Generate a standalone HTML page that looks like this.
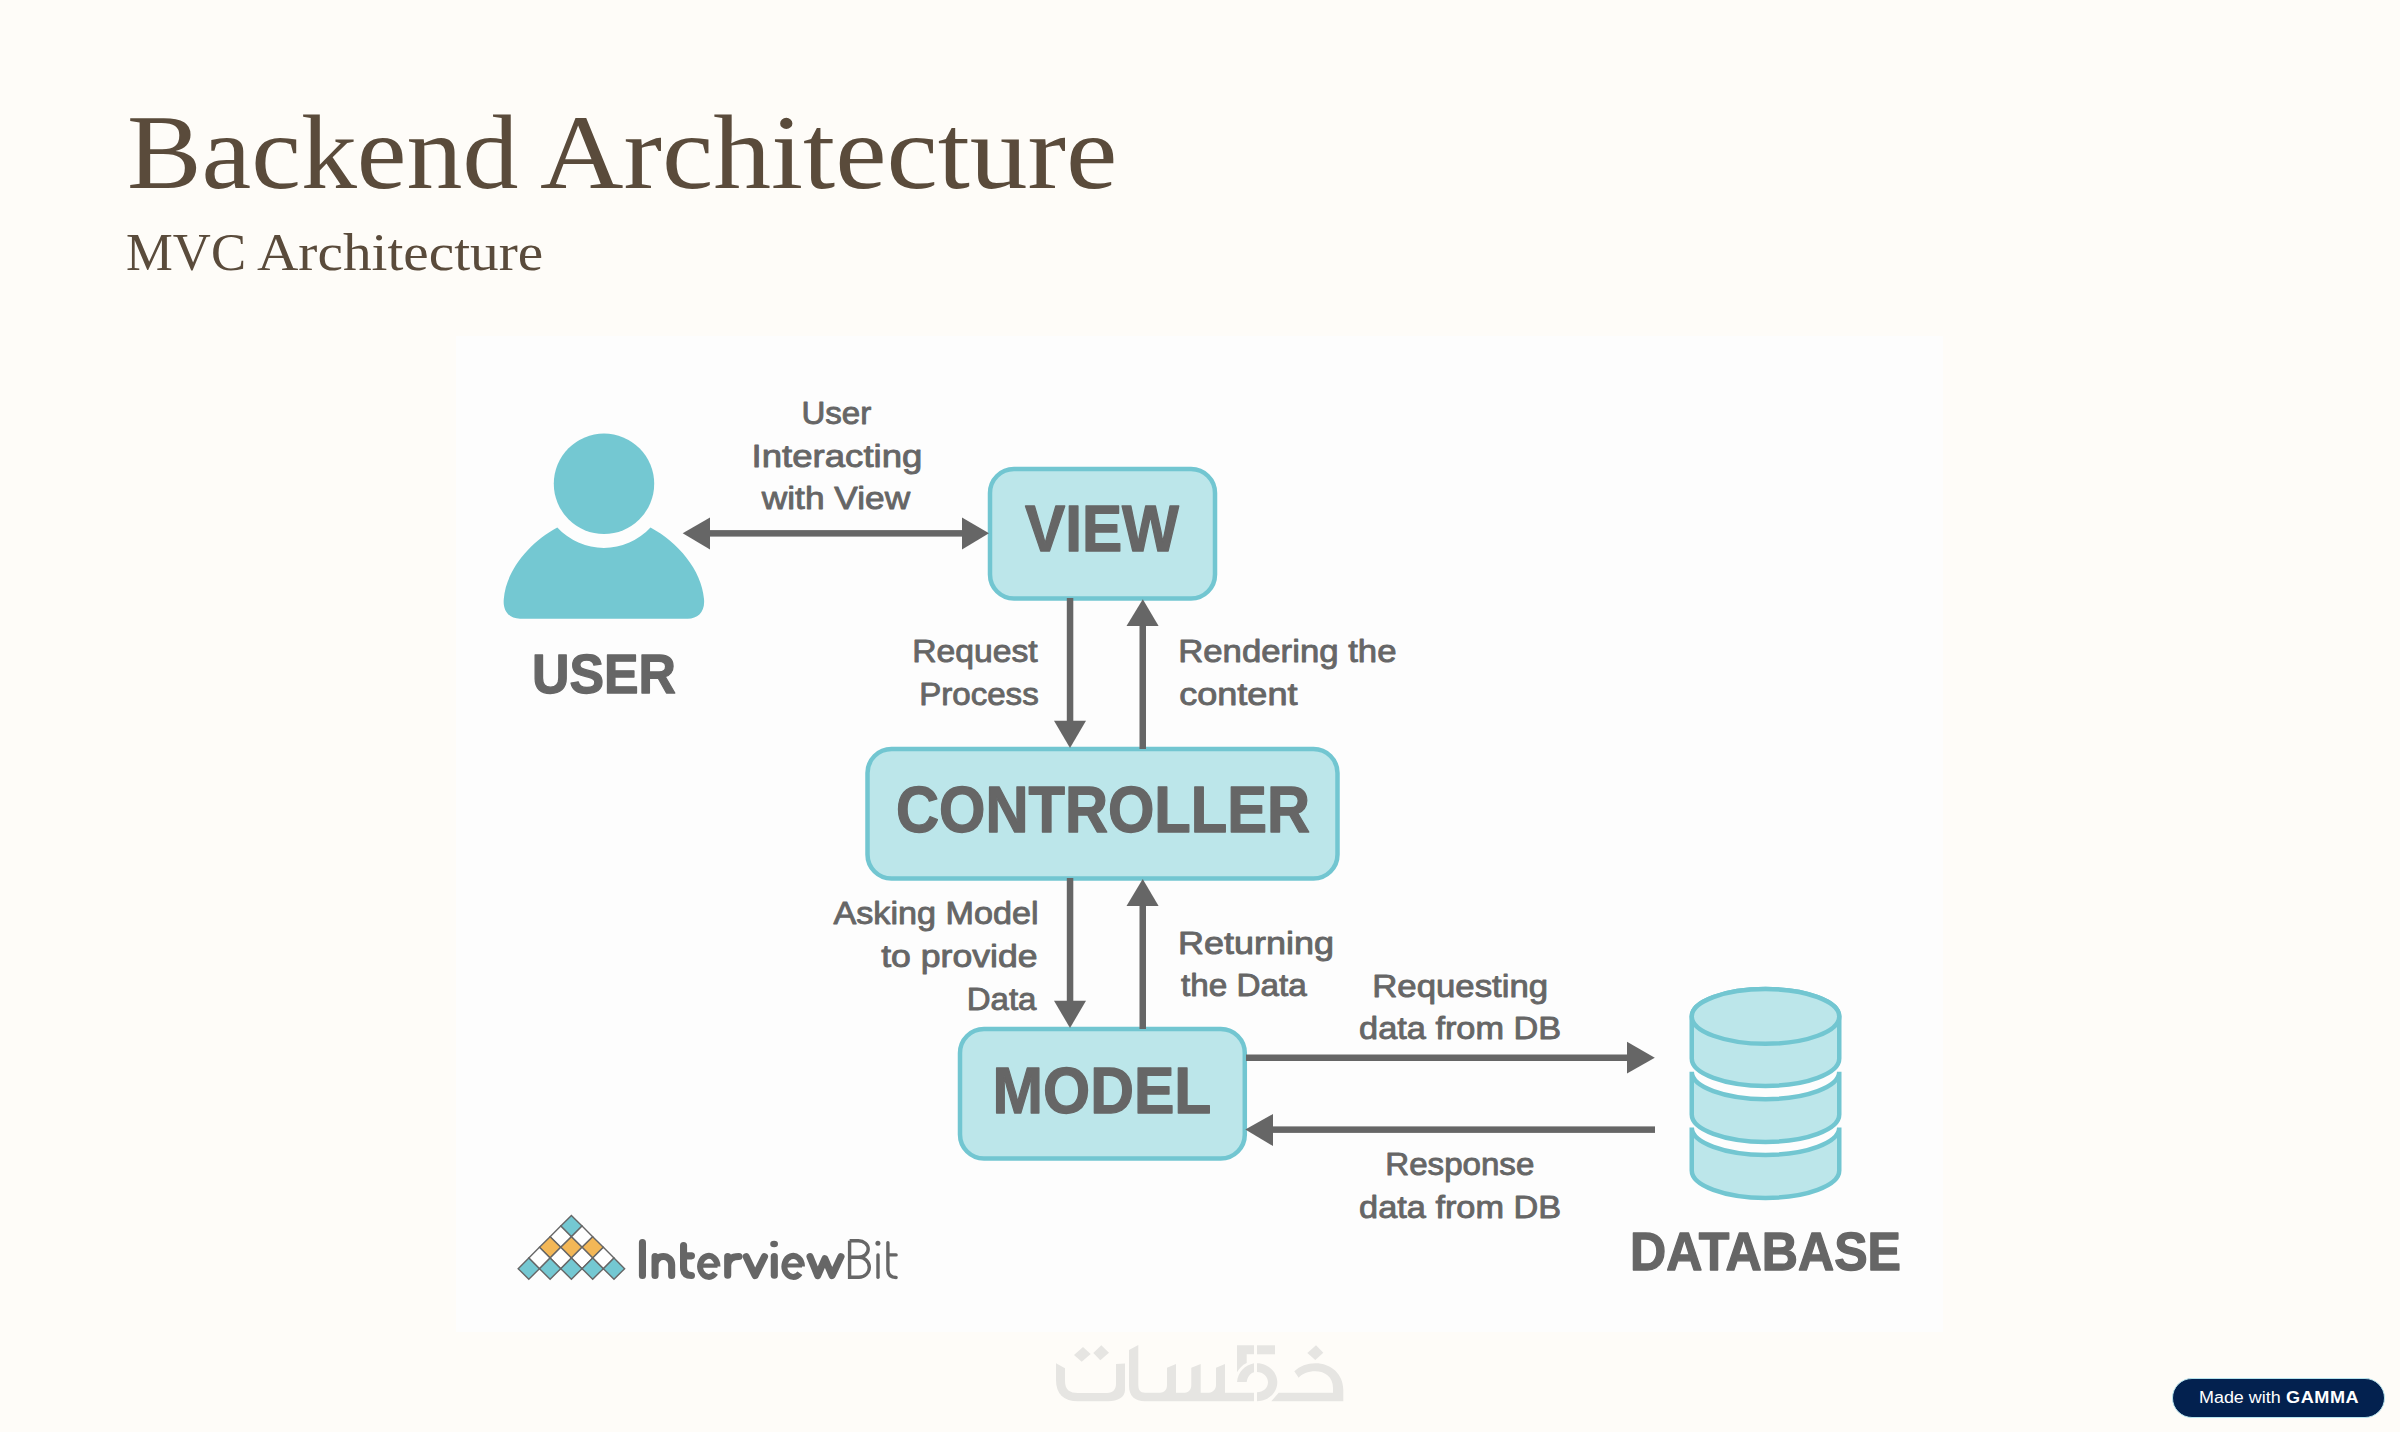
<!DOCTYPE html>
<html>
<head>
<meta charset="utf-8">
<title>Backend Architecture</title>
<style>
html,body{margin:0;padding:0;}
body{width:2400px;height:1432px;overflow:hidden;background:#fefcf8;position:relative;}
.title{position:absolute;margin:0;font-family:"Liberation Serif",serif;font-weight:normal;color:#5a4b3b;white-space:nowrap;transform-origin:0 0;}
#h1{left:0;top:100px;font-size:105px;line-height:105px;}
#h2{left:0;top:226px;font-size:53.4px;line-height:53.4px;}
.w{position:absolute;top:0;transform-origin:0 0;}
#img{position:absolute;left:456px;top:336px;width:1487px;height:996px;background:#fdfdfd;}
svg{position:absolute;left:0;top:0;}
.lb{font-family:"Liberation Sans",sans-serif;font-weight:bold;fill:#666666;}
#badge{position:absolute;left:2172px;top:1378px;width:211px;height:37.5px;border-radius:20px;background:#03214f;border:1px solid #b7e4ee;font-family:"Liberation Sans",sans-serif;color:#fff;white-space:nowrap;}
#badge .mw{position:absolute;left:26px;top:10px;font-size:16px;line-height:18px;transform-origin:0 0;transform:scaleX(1.12);}
#badge .gm{position:absolute;left:113px;top:10px;font-size:16px;line-height:18px;font-weight:bold;letter-spacing:0.5px;transform-origin:0 0;transform:scaleX(1.13);}
</style>
</head>
<body>
<h1 class="title" id="h1"><span class="w" style="left:127.05px;transform:scaleX(1.0653)">Backend</span> <span class="w" style="left:539.79px;transform:scaleX(1.1004)">Architecture</span></h1>
<h2 class="title" id="h2"><span class="w" style="left:125.81px;transform:scaleX(0.9867)">MVC</span> <span class="w" style="left:256.60px;transform:scaleX(1.0730)">Architecture</span></h2>
<div id="img"></div>
<svg width="2400" height="1432" viewBox="0 0 2400 1432">
  <!-- user icon -->
  <circle cx="604" cy="483.8" r="50.2" fill="#74c8d2"/>
  <path d="M557.3,527.4 C530,542 506,570 503.8,598.9 C502.5,612 510,618.7 520,618.7 L687.8,618.7 C697.8,618.7 705.3,612 704,598.9 C701.8,570 677.8,542 650.5,527.4 A63.1,63.1 0 0 1 557.3,527.4 Z" fill="#74c8d2"/>
  <!-- boxes -->
  <rect x="990" y="469" width="225" height="129.5" rx="24" fill="#bce6ea" stroke="#72c6d1" stroke-width="4.5"/>
  <rect x="867.5" y="749" width="470" height="129.5" rx="24" fill="#bce6ea" stroke="#72c6d1" stroke-width="4.5"/>
  <rect x="960" y="1029" width="284.8" height="129.5" rx="24" fill="#bce6ea" stroke="#72c6d1" stroke-width="4.5"/>
  <!-- arrows -->
  <g fill="#666666">
    <rect x="705" y="530.1" width="262" height="6.5"/>
    <polygon points="682.7,533.3 710,517.5 710,549.4"/>
    <polygon points="989,533.3 962,517.5 962,549.4"/>
    <rect x="1066.8" y="598" width="6.5" height="125"/>
    <polygon points="1070,748 1054,720.7 1086,720.7"/>
    <rect x="1139.5" y="622" width="6.5" height="127"/>
    <polygon points="1142.8,599.3 1126.5,626 1158.6,626"/>
    <rect x="1066.8" y="878" width="6.5" height="125"/>
    <polygon points="1070,1028 1054,1000.7 1086,1000.7"/>
    <rect x="1139.5" y="902" width="6.5" height="127"/>
    <polygon points="1142.7,879 1126.5,906 1158.6,906"/>
    <rect x="1246" y="1054.5" width="384" height="6.5"/>
    <polygon points="1654.8,1057.7 1627,1041.7 1627,1073.5"/>
    <rect x="1270" y="1126.4" width="385" height="6.5"/>
    <polygon points="1245.3,1129.6 1273,1114 1273,1146"/>
  </g>
  <!-- database -->
  <g fill="#bce6ea" stroke="#72c6d1" stroke-width="4.5">
    <path d="M1691.75,1016.4 A73.75,27.35 0 0 1 1839.25,1016.4 L1839.25,1058.6 A73.75,27.35 0 0 1 1691.75,1058.6 Z"/>
    <ellipse cx="1765.5" cy="1016.4" rx="73.75" ry="27.35"/>
    <path d="M1691.75,1071.8 A73.75,27.35 0 0 0 1839.25,1071.8 L1839.25,1114.6 A73.75,27.35 0 0 1 1691.75,1114.6 Z"/>
    <path d="M1691.75,1127.6 A73.75,27.35 0 0 0 1839.25,1127.6 L1839.25,1170.6 A73.75,27.35 0 0 1 1691.75,1170.6 Z"/>
  </g>
  <!-- labels -->
  <g class="lb">
    <text x="801.4" y="423.9" font-size="32.0" textLength="69.9" lengthAdjust="spacingAndGlyphs" stroke="#666666" stroke-width="0.9" stroke-linejoin="round" font-weight="normal">User</text>
    <text x="751.5" y="466.6" font-size="32.0" textLength="170.9" lengthAdjust="spacingAndGlyphs" stroke="#666666" stroke-width="0.9" stroke-linejoin="round" font-weight="normal">Interacting</text>
    <text x="761.8" y="509.2" font-size="32.0" textLength="148.4" lengthAdjust="spacingAndGlyphs" stroke="#666666" stroke-width="0.9" stroke-linejoin="round" font-weight="normal">with View</text>
    <text x="912.2" y="662.2" font-size="32.0" textLength="125.5" lengthAdjust="spacingAndGlyphs" stroke="#666666" stroke-width="0.9" stroke-linejoin="round" font-weight="normal">Request</text>
    <text x="919.2" y="704.6" font-size="32.0" textLength="119.5" lengthAdjust="spacingAndGlyphs" stroke="#666666" stroke-width="0.9" stroke-linejoin="round" font-weight="normal">Process</text>
    <text x="1178.2" y="662.2" font-size="32.0" textLength="218.3" lengthAdjust="spacingAndGlyphs" stroke="#666666" stroke-width="0.9" stroke-linejoin="round" font-weight="normal">Rendering the</text>
    <text x="1179.2" y="704.6" font-size="32.0" textLength="118.3" lengthAdjust="spacingAndGlyphs" stroke="#666666" stroke-width="0.9" stroke-linejoin="round" font-weight="normal">content</text>
    <text x="833.5" y="924.0" font-size="32.0" textLength="205.0" lengthAdjust="spacingAndGlyphs" stroke="#666666" stroke-width="0.9" stroke-linejoin="round" font-weight="normal">Asking Model</text>
    <text x="881.2" y="967.1" font-size="32.0" textLength="156.3" lengthAdjust="spacingAndGlyphs" stroke="#666666" stroke-width="0.9" stroke-linejoin="round" font-weight="normal">to provide</text>
    <text x="966.7" y="1010.3" font-size="32.0" textLength="69.8" lengthAdjust="spacingAndGlyphs" stroke="#666666" stroke-width="0.9" stroke-linejoin="round" font-weight="normal">Data</text>
    <text x="1178.0" y="954.3" font-size="32.0" textLength="156.0" lengthAdjust="spacingAndGlyphs" stroke="#666666" stroke-width="0.9" stroke-linejoin="round" font-weight="normal">Returning</text>
    <text x="1181.0" y="996.3" font-size="32.0" textLength="125.8" lengthAdjust="spacingAndGlyphs" stroke="#666666" stroke-width="0.9" stroke-linejoin="round" font-weight="normal">the Data</text>
    <text x="1372.2" y="996.7" font-size="32.0" textLength="175.9" lengthAdjust="spacingAndGlyphs" stroke="#666666" stroke-width="0.9" stroke-linejoin="round" font-weight="normal">Requesting</text>
    <text x="1359.1" y="1038.9" font-size="32.0" textLength="202.1" lengthAdjust="spacingAndGlyphs" stroke="#666666" stroke-width="0.9" stroke-linejoin="round" font-weight="normal">data from DB</text>
    <text x="1385.3" y="1175.3" font-size="32.0" textLength="149.0" lengthAdjust="spacingAndGlyphs" stroke="#666666" stroke-width="0.9" stroke-linejoin="round" font-weight="normal">Response</text>
    <text x="1359.1" y="1217.8" font-size="32.0" textLength="202.1" lengthAdjust="spacingAndGlyphs" stroke="#666666" stroke-width="0.9" stroke-linejoin="round" font-weight="normal">data from DB</text>
    <text x="532.0" y="692.7" font-size="55.62" textLength="144.0" lengthAdjust="spacingAndGlyphs" stroke="#666666" stroke-width="1.3" stroke-linejoin="round">USER</text>
    <text x="1025.0" y="551.3" font-size="63.96" textLength="154.0" lengthAdjust="spacingAndGlyphs" stroke="#666666" stroke-width="1.3" stroke-linejoin="round">VIEW</text>
    <text x="896.0" y="832.0" font-size="63.9" textLength="414.0" lengthAdjust="spacingAndGlyphs" stroke="#666666" stroke-width="1.3" stroke-linejoin="round">CONTROLLER</text>
    <text x="992.6" y="1112.5" font-size="65.1" textLength="218.7" lengthAdjust="spacingAndGlyphs" stroke="#666666" stroke-width="1.3" stroke-linejoin="round">MODEL</text>
    <text x="1630.0" y="1270.0" font-size="53.83" textLength="271.0" lengthAdjust="spacingAndGlyphs" stroke="#666666" stroke-width="1.3" stroke-linejoin="round">DATABASE</text>
  </g>
  <!-- InterviewBit logo -->
  <g>
    <polygon points="571.40,1215.40 582.05,1226.05 571.40,1236.70 560.75,1226.05" fill="#74c8d2" stroke="#666666" stroke-width="1.4" stroke-linejoin="miter"/>
    <polygon points="560.75,1226.05 571.40,1236.70 560.75,1247.35 550.10,1236.70" fill="#ffffff" stroke="#666666" stroke-width="1.4" stroke-linejoin="miter"/>
    <polygon points="582.05,1226.05 592.70,1236.70 582.05,1247.35 571.40,1236.70" fill="#ffffff" stroke="#666666" stroke-width="1.4" stroke-linejoin="miter"/>
    <polygon points="550.10,1236.70 560.75,1247.35 550.10,1258.00 539.45,1247.35" fill="#f3b757" stroke="#666666" stroke-width="1.4" stroke-linejoin="miter"/>
    <polygon points="571.40,1236.70 582.05,1247.35 571.40,1258.00 560.75,1247.35" fill="#f3b757" stroke="#666666" stroke-width="1.4" stroke-linejoin="miter"/>
    <polygon points="592.70,1236.70 603.35,1247.35 592.70,1258.00 582.05,1247.35" fill="#f3b757" stroke="#666666" stroke-width="1.4" stroke-linejoin="miter"/>
    <polygon points="539.45,1247.35 550.10,1258.00 539.45,1268.65 528.80,1258.00" fill="#ffffff" stroke="#666666" stroke-width="1.4" stroke-linejoin="miter"/>
    <polygon points="560.75,1247.35 571.40,1258.00 560.75,1268.65 550.10,1258.00" fill="#ffffff" stroke="#666666" stroke-width="1.4" stroke-linejoin="miter"/>
    <polygon points="582.05,1247.35 592.70,1258.00 582.05,1268.65 571.40,1258.00" fill="#ffffff" stroke="#666666" stroke-width="1.4" stroke-linejoin="miter"/>
    <polygon points="603.35,1247.35 614.00,1258.00 603.35,1268.65 592.70,1258.00" fill="#ffffff" stroke="#666666" stroke-width="1.4" stroke-linejoin="miter"/>
    <polygon points="528.80,1258.00 539.45,1268.65 528.80,1279.30 518.15,1268.65" fill="#74c8d2" stroke="#666666" stroke-width="1.4" stroke-linejoin="miter"/>
    <polygon points="550.10,1258.00 560.75,1268.65 550.10,1279.30 539.45,1268.65" fill="#74c8d2" stroke="#666666" stroke-width="1.4" stroke-linejoin="miter"/>
    <polygon points="571.40,1258.00 582.05,1268.65 571.40,1279.30 560.75,1268.65" fill="#74c8d2" stroke="#666666" stroke-width="1.4" stroke-linejoin="miter"/>
    <polygon points="592.70,1258.00 603.35,1268.65 592.70,1279.30 582.05,1268.65" fill="#74c8d2" stroke="#666666" stroke-width="1.4" stroke-linejoin="miter"/>
    <polygon points="614.00,1258.00 624.65,1268.65 614.00,1279.30 603.35,1268.65" fill="#74c8d2" stroke="#666666" stroke-width="1.4" stroke-linejoin="miter"/>
  </g>
  <g fill="none" stroke="#666666" stroke-linecap="round" stroke-linejoin="round">
    <g stroke-width="7.1">
      <path d="M642.45,1242.65 V1275.45"/>
      <path d="M655.05,1275.45 V1256.65 M655.05,1264.75 A8.3,8.3 0 0 1 671.65,1264.75 V1275.45"/>
      <path d="M683.55,1245.45 V1267.5 Q683.55,1275.45 691.45,1275.45 M683.55,1255.85 H691.45"/>
      <path d="M717.5,1266.4 A8.7,10.5 0 1 0 715.46,1273.15" stroke-width="6" stroke-linecap="butt"/>
      <path d="M727.7,1275.15 V1256.65 M727.7,1265 Q728.5,1256.5 738.9,1256.5"/>
      <path d="M746.1,1256.6 L755.1,1275.6 L764.5,1256.6"/>
      <path d="M774.3,1256.65 V1275.15"/>
      <path d="M802,1266.4 A8.8,10.5 0 1 0 799.94,1273.15" stroke-width="6" stroke-linecap="butt"/>
      <path d="M810,1256.6 L817.7,1275.6 L824.9,1258.8 L832.1,1275.6 L841,1256.6"/>
    </g>
    <path d="M700.6,1265.7 H717.5 M785,1265.5 H802" stroke-width="4.2" stroke-linecap="butt"/>
    <g stroke-width="3.4">
      <path d="M849.6,1240.8 V1277.3 H859 A10.3,10 0 0 0 859,1257.3 H849.6 M849.6,1240.8 H858.5 A9.7,8.25 0 0 1 858.5,1257.3" stroke-linecap="butt" stroke-linejoin="miter"/>
      <path d="M878,1255 V1277.3"/>
      <path d="M887.9,1242.6 V1269 Q887.9,1277.5 896.1,1277.5 M887.9,1254.9 H896.1"/>
    </g>
  </g>
  <ellipse cx="774.1" cy="1244" rx="3.9" ry="3.2" fill="#666666"/>
  <circle cx="877.9" cy="1243.3" r="2.5" fill="#666666"/>
  <!-- watermark -->
  <g fill="#e6e5e2">
    <path d="M1056,1363.3 L1065,1368.3 L1065,1381 C1065,1390 1070,1393 1078,1393 L1107,1393 C1113,1393 1116,1389 1116,1384 L1116,1364 L1125,1363.5 L1125,1390 C1125,1397 1118,1401.3 1108,1401.3 L1078,1401.3 C1064,1401.3 1056,1394 1056,1380 Z"/>
    <polygon points="1083,1346.9 1090.7,1354 1081.7,1361.7 1074,1355"/>
    <polygon points="1101.3,1345.3 1109,1352.7 1100.3,1360.3 1093.3,1353"/>
    <path d="M1129,1350 L1138.3,1345 L1138.3,1384 C1138.3,1390 1140,1392.7 1145,1392.7 L1160,1392.7 C1165,1392.7 1167,1389 1167,1385 L1167,1367.7 L1176,1364 L1176,1392.7 L1185,1392.7 C1189,1392.7 1191.3,1389 1191.3,1385 L1191.3,1367.7 L1200.7,1364 L1200.7,1392.7 L1209,1392.7 C1213,1392.7 1216,1389 1216,1385 L1216,1367.7 L1225,1364 L1225,1392.7 L1254,1392.7 L1254,1401.3 L1145,1401.3 C1135,1401.3 1129,1396 1129,1386 Z"/>
    <path d="M1237,1345.3 L1254,1345.3 L1254,1354.3 L1246.7,1354.3 L1246.7,1363 C1242,1365 1239,1369 1237,1372.3 Z"/>
    <rect x="1257" y="1345.3" width="18" height="9"/>
    <path d="M1237,1382 C1238,1372 1245,1365 1254,1363.3 L1254,1372.3 C1250,1373.5 1247.5,1377 1246.7,1382 Z"/>
    <path d="M1257,1363.3 C1268,1363.3 1277.3,1372 1277.3,1382.3 C1277.3,1393 1268,1401.3 1257,1401.3 L1257,1392.3 C1263,1392.3 1268,1388 1268,1382.3 C1268,1376.5 1263,1372 1257,1372 Z"/>
    <polygon points="1316,1345.3 1323.3,1352.7 1315.3,1360 1307.3,1353"/>
    <path d="M1271.3,1401.3 L1278.7,1392.7 L1333,1392.7 L1333,1388 C1333,1377 1325,1371.3 1315.3,1371.3 C1308,1371.3 1302,1374 1298.7,1377.7 L1294.3,1371.3 C1300,1366 1307,1363.3 1315.3,1363.3 C1331,1363.3 1343.3,1374 1343.3,1390 L1343.3,1401.3 Z"/>
  </g>
</svg>
<div id="badge"><span class="mw">Made with</span><span class="gm">GAMMA</span></div>
</body>
</html>
